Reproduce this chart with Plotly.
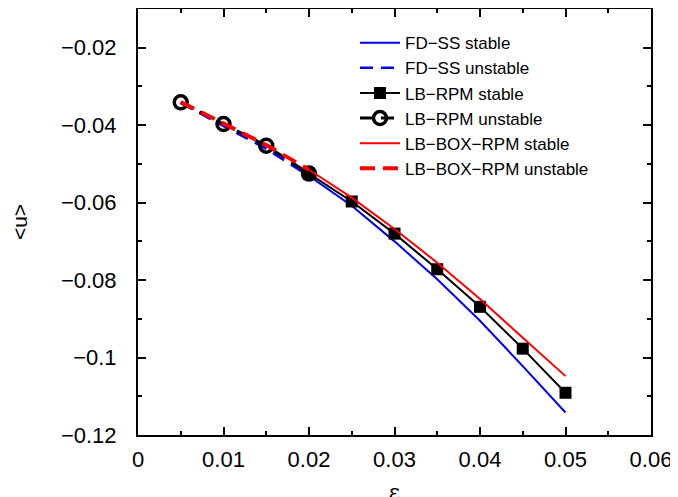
import plotly.graph_objects as go

eps_unstable = [0.005, 0.01, 0.015, 0.02]
eps_stable = [0.02, 0.025, 0.03, 0.035, 0.04, 0.045, 0.05]

fdss_unstable = [-0.0343, -0.0401, -0.0461, -0.0531]
fdss_stable = [-0.0531, -0.0608, -0.0700, -0.0798, -0.0905, -0.1022, -0.1142]
lbrpm_unstable = [-0.0341, -0.0397, -0.0453, -0.0525]
lbrpm_stable = [-0.0525, -0.0597, -0.0680, -0.0772, -0.0869, -0.0977, -0.1091]
lbbox_unstable = [-0.0340, -0.0395, -0.0451, -0.0515]
lbbox_stable = [-0.0515, -0.0587, -0.0668, -0.0755, -0.0849, -0.0949, -0.1048]

names = ["FD\u2212SS stable", "FD\u2212SS unstable", "LB\u2212RPM stable",
         "LB\u2212RPM unstable", "LB\u2212BOX\u2212RPM stable", "LB\u2212BOX\u2212RPM unstable"]

FONT = "Liberation Sans, Arial, sans-serif"

fig = go.Figure()
fig.add_trace(go.Scatter(x=eps_stable, y=fdss_stable, mode="lines", name=names[0],
                         line=dict(color="#0000ff", width=2)))
fig.add_trace(go.Scatter(x=eps_unstable, y=fdss_unstable, mode="lines", name=names[1],
                         line=dict(color="#0000ff", width=2.5, dash="13px,8px")))
fig.add_trace(go.Scatter(x=eps_stable, y=lbrpm_stable, mode="lines+markers", name=names[2],
                         line=dict(color="black", width=2),
                         marker=dict(symbol="square", size=12, color="black")))
fig.add_trace(go.Scatter(x=eps_unstable, y=lbrpm_unstable, mode="lines+markers", name=names[3],
                         line=dict(color="black", width=3, dash="13px,8px"),
                         marker=dict(symbol="circle-open", size=13, color="black",
                                     line=dict(width=3.5, color="black"))))
fig.add_trace(go.Scatter(x=eps_stable, y=lbbox_stable, mode="lines", name=names[4],
                         line=dict(color="#ff0000", width=2)))
fig.add_trace(go.Scatter(x=eps_unstable, y=lbbox_unstable, mode="lines", name=names[5],
                         line=dict(color="#ff0000", width=4, dash="15px,8px")))

axis_common = dict(showline=True, linecolor="black", linewidth=2, mirror="ticks",
                   ticks="inside", ticklen=8, tickwidth=1.5, tickcolor="black",
                   showgrid=False, zeroline=False, automargin=False,
                   tickfont=dict(family=FONT, size=22, color="black"))

fig.update_xaxes(range=[0, 0.06], dtick=0.01, tick0=0, tickangle=0,
                 minor=dict(dtick=0.005, ticks="inside", ticklen=4, tickwidth=1.5, tickcolor="black", showgrid=False),
                 ticklabelstandoff=4,
                 title=dict(text="\u03b5", font=dict(family="DejaVu Serif, serif", size=22, color="black"), standoff=24),
                 **axis_common)
fig.update_yaxes(range=[-0.12, -0.01], dtick=0.02, tick0=-0.12,
                 minor=dict(dtick=0.01, ticks="inside", ticklen=4, tickwidth=1.5, tickcolor="black", showgrid=False),
                 ticklabelstandoff=15,
                 title=dict(text="&lt;u&gt;", font=dict(family=FONT, size=21, color="black"), standoff=45),
                 **axis_common)

fig.update_layout(
    width=678, height=497,
    margin=dict(l=130, r=35, t=1, b=70),
    paper_bgcolor="white", plot_bgcolor="white",
    showlegend=True,
    legend=dict(x=0.423, y=0.962, xanchor="left", yanchor="top",
                bgcolor="rgba(0,0,0,0)", borderwidth=0,
                font=dict(family=FONT, size=17, color="black"),
                tracegroupgap=0, itemwidth=40),
)

fig.write_html("out.html")
